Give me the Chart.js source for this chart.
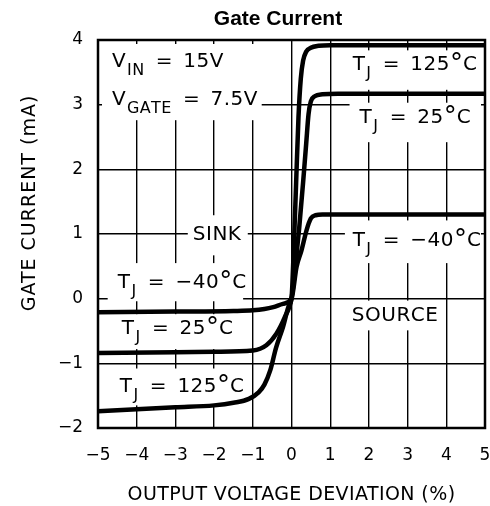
<!DOCTYPE html>
<html>
<head>
<meta charset="utf-8">
<script src="https://cdn.jsdelivr.net/npm/chart.js@4/dist/chart.umd.min.js"></script>
<style>
  html, body { margin: 0; padding: 0; background: #fff; }
  #wrap { width: 490px; height: 506px; }
</style>
</head>
<body>
<div id="wrap"><canvas id="chart" width="490" height="506"></canvas></div>
<script>
// axis ranges / ticks
const xTicks = [-5, -4, -3, -2, -1, 0, 1, 2, 3, 4, 5];
const yTicks = [-2, -1, 0, 1, 2, 3, 4];

// T_J = -40°C
const xCold = [-5, -3, -1.5, -1, -0.7, -0.47, -0.22, 0, 0.13, 0.26, 0.39, 0.5, 0.62, 0.8, 5];
const yCold = [-0.21, -0.2, -0.19, -0.18, -0.16, -0.13, -0.08, 0, 0.49, 0.75, 1.06, 1.24, 1.29, 1.3, 1.3];

// T_J = 25°C
const xRoom = [-5, -3, -2, -1, -0.65, -0.39, -0.17, 0, 0.1, 0.2, 0.3, 0.38, 0.44, 0.5, 0.6, 0.8, 1.2, 5];
const yRoom = [-0.84, -0.83, -0.82, -0.8, -0.72, -0.54, -0.28, 0, 0.5, 1.1, 1.8, 2.4, 2.85, 3.05, 3.13, 3.16, 3.17, 3.17];

// T_J = 125°C
const xHot = [-5, -4, -3, -2, -1.5, -1.1, -0.85, -0.7, -0.55, -0.4, -0.22, -0.05, 0, 0.06, 0.12, 0.18, 0.24, 0.3, 0.38, 0.5, 0.7, 1, 5];
const yHot = [-1.74, -1.71, -1.68, -1.65, -1.61, -1.55, -1.45, -1.33, -1.11, -0.76, -0.44, -0.08, 0, 0.8, 1.8, 2.8, 3.4, 3.68, 3.82, 3.88, 3.91, 3.92, 3.92];

const FONT = "'DejaVu Sans', sans-serif";

// text boxes on the plot: white box [x1, x2, yTop, yBottom] and text lines (data coords)
// part flags: 1 = subscript, 2 = degree mark
const notes = [
    { box: [-5, -0.77, 4, 2.76], lines: [
        { at: [-4.64, 3.575], parts: [['V'], ['IN', 1], [' = 15V']] },
        { at: [-4.64, 3.0], parts: [['V'], ['GATE', 1], [' = 7.5V']] } ] },
    { box: [1.38, 5, 3.84, 3.23], lines: [{ at: [1.58, 3.54], parts: [['T'], ['J', 1], [' = 125'], ['°', 2], ['C']] }] },
    { box: [1.5, 5, 3.03, 2.42], lines: [{ at: [1.76, 2.71], parts: [['T'], ['J', 1], [' = 25'], ['°', 2], ['C']] }] },
    { box: [-2.68, -1.13, 1.29, 0.67], lines: [{ at: [-2.55, 0.9], parts: [['SINK']] }] },
    { box: [-4.75, -1.25, 0.55, -0.04], lines: [{ at: [-4.49, 0.16], parts: [['T'], ['J', 1], [' = −40'], ['°', 2], ['C']] }] },
    { box: [-5, -1.21, -0.24, -0.78], lines: [{ at: [-4.385, -0.55], parts: [['T'], ['J', 1], [' = 25'], ['°', 2], ['C']] }] },
    { box: [-5, -1.21, -1.08, -1.65], lines: [{ at: [-4.44, -1.45], parts: [['T'], ['J', 1], [' = 125'], ['°', 2], ['C']] }] },
    { box: [1.38, 5, 1.21, 0.55], lines: [{ at: [1.58, 0.82], parts: [['T'], ['J', 1], [' = −40'], ['°', 2], ['C']] }] },
    { box: [1.38, 3.83, -0.03, -0.49], lines: [{ at: [1.56, -0.35], parts: [['SOURCE']] }] }
];

function pts(xs, ys) {
    return xs.map((v, i) => ({ x: v, y: ys[i] }));
}

function fmt(v) {
    return v < 0 ? '−' + Math.abs(v) : String(v);
}

const notesPlugin = {
    id: 'notes',
    beforeDatasetsDraw(chart) {
        const { ctx, chartArea: a, scales: { x, y } } = chart;
        ctx.save();
        ctx.beginPath();
        ctx.rect(a.left + 4, a.top + 4, a.right - a.left - 8, a.bottom - a.top - 8);
        ctx.clip();
        ctx.fillStyle = '#fff';
        notes.forEach(n => {
            const [x1, x2, y1, y2] = n.box;
            const l = x.getPixelForValue(x1), r = x.getPixelForValue(x2);
            const t = y.getPixelForValue(y1), b = y.getPixelForValue(y2);
            ctx.fillRect(l, t, r - l, b - t);
        });
        ctx.restore();

        ctx.save();
        ctx.fillStyle = '#000';
        ctx.textBaseline = 'alphabetic';
        ctx.textAlign = 'left';
        ctx.letterSpacing = '0px';
        notes.forEach(n => n.lines.forEach(ln => {
            let px = x.getPixelForValue(ln.at[0]);
            const py = y.getPixelForValue(ln.at[1]);
            ln.parts.forEach(([s, kind]) => {
                let dy = 0, gap = 0.5;
                if (kind === 1) { ctx.font = '16px ' + FONT; dy = 8; gap = 0.3; px += 1; }
                else if (kind === 2) { ctx.font = '26px ' + FONT; dy = 2; gap = 0; }
                else { ctx.font = '20px ' + FONT; }
                s.split('').forEach(ch => {
                    ctx.fillText(ch, px, py + dy);
                    // wider gaps round the "=" sign, like the original lettering
                    px += ctx.measureText(ch).width + gap + (ch === ' ' ? 3.5 : 0);
                });
                if (kind === 1) px += 1;
            });
        }));
        ctx.restore();
    },
    afterDatasetsDraw(chart) {
        const { ctx, chartArea: a } = chart;
        ctx.save();
        ctx.strokeStyle = '#000';
        ctx.lineWidth = 2.5;
        ctx.strokeRect(a.left, a.top, a.right - a.left, a.bottom - a.top);
        ctx.restore();
    },
    afterDraw(chart) {
        const { ctx, chartArea: a } = chart;
        ctx.save();
        ctx.fillStyle = '#000';
        ctx.textAlign = 'center';
        ctx.textBaseline = 'middle';
        ctx.font = "bold 21px 'Liberation Sans', Arial, sans-serif";
        ctx.fillText('Gate Current', 278, 19);
        ctx.font = '19px ' + FONT;
        ctx.letterSpacing = '0.4px';
        ctx.fillText('OUTPUT VOLTAGE DEVIATION (%)', (a.left + a.right) / 2, 495);
        ctx.letterSpacing = '1px';
        ctx.translate(30, 203);
        ctx.rotate(-Math.PI / 2);
        ctx.fillText('GATE CURRENT (mA)', 0, 0);
        ctx.restore();
    }
};

const lineStyle = {
    borderColor: '#000',
    borderWidth: 4.5,
    pointRadius: 0,
    fill: false,
    cubicInterpolationMode: 'monotone'
};

new Chart(document.getElementById('chart'), {
    type: 'line',
    data: {
        datasets: [
            { label: 'TJ = -40°C', data: pts(xCold, yCold), ...lineStyle },
            { label: 'TJ = 25°C', data: pts(xRoom, yRoom), ...lineStyle },
            { label: 'TJ = 125°C', data: pts(xHot, yHot), ...lineStyle }
        ]
    },
    options: {
        responsive: false,
        animation: false,
        devicePixelRatio: 1,
        layout: { padding: { top: 40, right: 5, left: 0, bottom: 0 } },
        plugins: {
            legend: { display: false },
            title: { display: false },
            tooltip: { enabled: false }
        },
        scales: {
            x: {
                type: 'linear',
                min: xTicks[0],
                max: xTicks[xTicks.length - 1],
                afterBuildTicks: s => { s.ticks = xTicks.map(v => ({ value: v })); },
                afterFit: s => { s.height = 78; s.paddingLeft = 0; s.paddingRight = 0; },
                ticks: { color: '#000', font: { size: 17, family: FONT }, padding: 17, callback: fmt, maxRotation: 0 },
                grid: { color: '#000', lineWidth: 1.4, drawTicks: false },
                border: { display: false }
            },
            y: {
                type: 'linear',
                min: yTicks[0],
                max: yTicks[yTicks.length - 1],
                afterBuildTicks: s => { s.ticks = yTicks.map(v => ({ value: v })); },
                afterFit: s => { s.width = 98; s.paddingTop = 0; s.paddingBottom = 0; },
                ticks: { color: '#000', font: { size: 17, family: FONT }, padding: 15, callback: fmt },
                grid: { color: '#000', lineWidth: 1.4, drawTicks: false },
                border: { display: false }
            }
        }
    },
    plugins: [notesPlugin]
});
</script>
</body>
</html>
